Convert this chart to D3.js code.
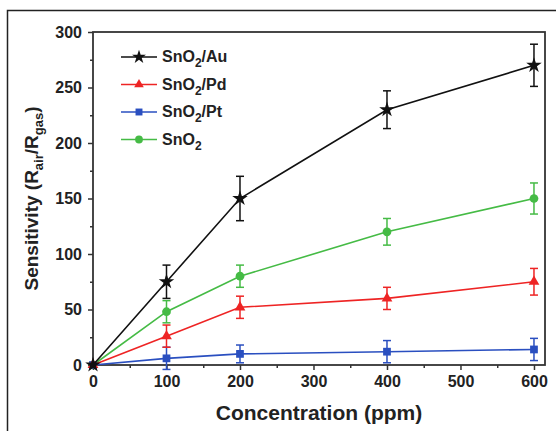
<!DOCTYPE html>
<html>
<head>
<meta charset="utf-8">
<script src="https://cdn.jsdelivr.net/npm/d3@7"></script>
<style>
  body { margin: 0; background: #fff; }
  svg text { font-family: "Liberation Sans", Arial, sans-serif; font-weight: bold; }
</style>
</head>
<body>
<div id="chart"></div>
<script>
// concentrations (ppm)
var conc = [0, 100, 200, 400, 600];

var seriesNames = ["SnO2/Au", "SnO2/Pd", "SnO2/Pt", "SnO2"];
var seriesColors = ["#111111", "#ee2424", "#2a4fc0", "#45bb45"];
var seriesShapes = ["star", "triangle", "square", "circle"];

var auVals = [0, 75, 150, 230, 270];
var auErr = [0, 15, 20, 17, 19];
var pdVals = [0, 26, 52, 60, 75];
var pdErr = [0, 10, 10, 10, 12];
var ptVals = [0, 6, 10, 12, 14];
var ptErr = [0, 10, 8, 10, 10];
var snVals = [0, 48, 80, 120, 150];
var snErr = [0, 10, 10, 12, 14];

var xTicks = [0, 100, 200, 300, 400, 500, 600];
var yTicks = [0, 50, 100, 150, 200, 250, 300];

var allVals = [auVals, pdVals, ptVals, snVals];
var allErr = [auErr, pdErr, ptErr, snErr];

var width = 556, height = 431;
var margin = {left: 93, right: 11, top: 32, bottom: 66};

var svg = d3.select("#chart").append("svg")
    .attr("width", width)
    .attr("height", height);

// outer frame of the figure panel
svg.append("path")
    .attr("d", "M7.5," + height + " L7.5,10.5 L" + width + ",10.5")
    .attr("fill", "none")
    .attr("stroke", "#222")
    .attr("stroke-width", 1.5);

var x = d3.scaleLinear().domain([0, 615]).range([margin.left, width - margin.right]);
var y = d3.scaleLinear().domain([0, 300]).range([height - margin.bottom, margin.top]);

// x axis
var xAxis = svg.append("g")
    .attr("transform", "translate(0," + y(0) + ")")
    .call(d3.axisBottom(x).tickValues(xTicks).tickSize(5).tickPadding(6).tickFormat(d3.format("d")));
xAxis.select(".domain").remove();
xAxis.selectAll("text").attr("font-size", "16px").attr("fill", "#222");
xAxis.selectAll("line").attr("stroke", "#333").attr("stroke-width", 1.5);

svg.append("g")
    .attr("transform", "translate(0," + y(0) + ")")
    .call(d3.axisBottom(x).tickValues([50, 150, 250, 350, 450, 550]).tickSize(3).tickFormat(""))
    .call(function(g){ g.select(".domain").remove(); })
    .selectAll("line").attr("stroke", "#333").attr("stroke-width", 1.5);

// y axis
var yAxis = svg.append("g")
    .attr("transform", "translate(" + x(0) + ",0)")
    .call(d3.axisLeft(y).tickValues(yTicks).tickSize(5).tickPadding(6).tickFormat(d3.format("d")));
yAxis.select(".domain").remove();
yAxis.selectAll("text").attr("font-size", "16px").attr("fill", "#222");
yAxis.selectAll("line").attr("stroke", "#333").attr("stroke-width", 1.5);

svg.append("g")
    .attr("transform", "translate(" + x(0) + ",0)")
    .call(d3.axisLeft(y).tickValues([25, 75, 125, 175, 225, 275]).tickSize(3).tickFormat(""))
    .call(function(g){ g.select(".domain").remove(); })
    .selectAll("line").attr("stroke", "#333").attr("stroke-width", 1.5);

// plot frame
svg.append("rect")
    .attr("x", margin.left)
    .attr("y", margin.top)
    .attr("width", width - margin.left - margin.right)
    .attr("height", height - margin.top - margin.bottom)
    .attr("fill", "none")
    .attr("stroke", "#333")
    .attr("stroke-width", 1.8);

// axis titles
svg.append("text")
    .attr("x", (margin.left + width - margin.right) / 2)
    .attr("y", 420)
    .attr("text-anchor", "middle")
    .attr("font-size", "21px")
    .attr("fill", "#222")
    .text("Concentration (ppm)");

var yTitle = svg.append("text")
    .attr("transform", "translate(38," + ((margin.top + height - margin.bottom) / 2) + ") rotate(-90)")
    .attr("text-anchor", "middle")
    .attr("font-size", "19px")
    .attr("fill", "#222");
yTitle.append("tspan").text("Sensitivity (R");
yTitle.append("tspan").attr("font-size", "13px").attr("dy", 5).text("air");
yTitle.append("tspan").attr("dy", -5).text("/R");
yTitle.append("tspan").attr("font-size", "13px").attr("dy", 5).text("gas");
yTitle.append("tspan").attr("dy", -5).text(")");

var symbolTypes = {
    star: d3.symbolStar,
    triangle: d3.symbolTriangle,
    square: d3.symbolSquare,
    circle: d3.symbolCircle
};
var symbolSizes = {star: 75, triangle: 50, square: 60, circle: 60};

var line = d3.line()
    .x(function(d){ return x(d.c); })
    .y(function(d){ return y(d.v); });

// draw the series in reverse so the black one ends up on top
for (var s = seriesNames.length - 1; s >= 0; s--) {
    var pts = conc.map(function(c, i){ return {c: c, v: allVals[s][i], e: allErr[s][i]}; });
    var col = seriesColors[s];
    var g = svg.append("g");

    g.append("path")
        .datum(pts)
        .attr("d", line)
        .attr("fill", "none")
        .attr("stroke", col)
        .attr("stroke-width", 1.6);

    // error bars
    var eb = g.selectAll(".eb").data(pts.filter(function(d){ return d.e > 0; }))
        .enter().append("g");
    eb.append("line")
        .attr("x1", function(d){ return x(d.c); })
        .attr("x2", function(d){ return x(d.c); })
        .attr("y1", function(d){ return y(d.v + d.e); })
        .attr("y2", function(d){ return y(d.v - d.e); })
        .attr("stroke", col).attr("stroke-width", 1.5);
    [1, -1].forEach(function(sign){
        eb.append("line")
            .attr("x1", function(d){ return x(d.c) - 4; })
            .attr("x2", function(d){ return x(d.c) + 4; })
            .attr("y1", function(d){ return y(d.v + sign * d.e); })
            .attr("y2", function(d){ return y(d.v + sign * d.e); })
            .attr("stroke", col).attr("stroke-width", 1.5);
    });

    g.selectAll(".pt").data(pts).enter().append("path")
        .attr("transform", function(d){ return "translate(" + x(d.c) + "," + y(d.v) + ")"; })
        .attr("d", d3.symbol().type(symbolTypes[seriesShapes[s]]).size(symbolSizes[seriesShapes[s]]))
        .attr("fill", col);
}

// legend
var legend = svg.append("g").attr("transform", "translate(121,57)");
seriesNames.forEach(function(name, i){
    var row = legend.append("g").attr("transform", "translate(0," + (i * 27.5) + ")");
    row.append("line")
        .attr("x1", 0).attr("x2", 36)
        .attr("y1", 0).attr("y2", 0)
        .attr("stroke", seriesColors[i]).attr("stroke-width", 1.6);
    row.append("path")
        .attr("transform", "translate(18,0)")
        .attr("d", d3.symbol().type(symbolTypes[seriesShapes[i]]).size(symbolSizes[seriesShapes[i]] * 0.8))
        .attr("fill", seriesColors[i]);
    var t = row.append("text")
        .attr("x", 41).attr("y", 5)
        .attr("font-size", "16px")
        .attr("fill", "#222");
    var parts = name.split("2");
    t.append("tspan").text(parts[0]);
    t.append("tspan").attr("font-size", "12px").attr("dy", 5).text("2");
    if (parts[1]) t.append("tspan").attr("dy", -5).text(parts[1]);
});
</script>
</body>
</html>
